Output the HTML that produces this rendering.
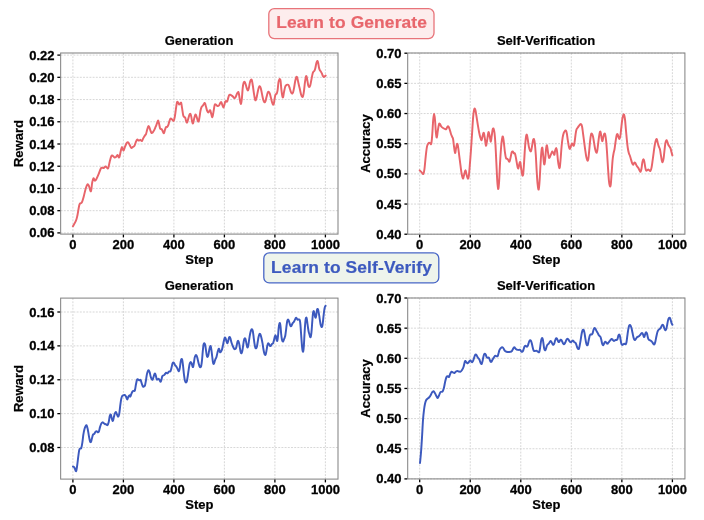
<!DOCTYPE html>
<html><head><meta charset="utf-8"><title>Training curves</title>
<style>
html,body{margin:0;padding:0;background:#fff;}
body{width:704px;height:520px;overflow:hidden;position:relative;font-family:"Liberation Sans",sans-serif;}
svg{position:absolute;left:0;top:0;will-change:transform;}
.g{stroke:#cdcdcd;stroke-width:0.8;stroke-dasharray:1.9 1.3;fill:none;}
.s{stroke:#858585;stroke-width:1.05;fill:none;}
.t{stroke:#000;stroke-width:1.3;}
.c{fill:none;stroke-width:1.95;stroke-linejoin:round;stroke-linecap:round;}
text{font-family:"Liberation Sans",sans-serif;font-weight:bold;fill:#000;}
.tl{font-size:13.0px;stroke:#000;stroke-width:0.3px;}
.lb{font-size:13.0px;stroke:#000;stroke-width:0.2px;}
.bt{font-size:17.4px;letter-spacing:0.12px;stroke-width:0.2px;}
.bn{position:absolute;box-sizing:border-box;border-radius:6px;font-weight:bold;font-size:17.6px;text-align:center;white-space:nowrap;}
#b1{left:268px;top:8px;width:167px;height:31.5px;border:1.3px solid #e9777b;background:#fde9e9;color:#e8666c;line-height:28px;}
#b2{left:263px;top:251.5px;width:177px;height:32px;border:1.3px solid #4a68c6;background:#eef4ec;color:#3f5cc0;line-height:28.5px;}
</style></head><body>
<svg width="704" height="520" viewBox="0 0 704 520">
<line class="g" x1="72.90" y1="53.00" x2="72.90" y2="234.10"/>
<line class="g" x1="123.40" y1="53.00" x2="123.40" y2="234.10"/>
<line class="g" x1="173.90" y1="53.00" x2="173.90" y2="234.10"/>
<line class="g" x1="224.40" y1="53.00" x2="224.40" y2="234.10"/>
<line class="g" x1="274.90" y1="53.00" x2="274.90" y2="234.10"/>
<line class="g" x1="325.40" y1="53.00" x2="325.40" y2="234.10"/>
<line class="g" x1="60.65" y1="55.10" x2="338.00" y2="55.10"/>
<line class="g" x1="60.65" y1="77.32" x2="338.00" y2="77.32"/>
<line class="g" x1="60.65" y1="99.55" x2="338.00" y2="99.55"/>
<line class="g" x1="60.65" y1="121.78" x2="338.00" y2="121.78"/>
<line class="g" x1="60.65" y1="144.00" x2="338.00" y2="144.00"/>
<line class="g" x1="60.65" y1="166.22" x2="338.00" y2="166.22"/>
<line class="g" x1="60.65" y1="188.45" x2="338.00" y2="188.45"/>
<line class="g" x1="60.65" y1="210.68" x2="338.00" y2="210.68"/>
<line class="g" x1="60.65" y1="232.90" x2="338.00" y2="232.90"/>
<path class="c" stroke="#e8646a" d="M72.90 226.26C73.44 225.30 75.07 222.87 75.87 220.97C76.67 219.06 76.78 218.34 77.35 215.68C77.92 213.01 78.54 208.37 79.04 206.16C79.53 203.95 79.60 204.06 80.10 203.41C80.59 202.76 81.14 203.78 81.79 202.56C82.44 201.34 82.97 199.23 83.69 196.64C84.42 194.05 85.12 190.39 85.81 188.18C86.49 185.97 86.93 184.75 87.50 184.37C88.07 183.99 88.37 184.80 88.98 186.06C89.59 187.32 90.32 191.92 90.89 191.35C91.46 190.78 91.70 185.25 92.16 182.89C92.61 180.53 92.93 178.61 93.43 178.23C93.92 177.85 94.37 180.62 94.91 180.77C95.44 180.92 95.74 180.22 96.39 179.08C97.03 177.94 97.70 176.33 98.50 174.43C99.30 172.52 100.14 169.72 100.83 168.50C101.51 167.28 101.78 167.73 102.31 167.66C102.84 167.58 103.22 168.31 103.79 168.08C104.36 167.85 104.91 166.46 105.48 166.39C106.05 166.31 106.47 167.35 106.96 167.66C107.46 167.96 107.74 169.15 108.23 168.08C108.73 167.01 109.14 163.90 109.71 161.73C110.29 159.56 110.84 157.09 111.41 156.02C111.98 154.95 112.32 155.54 112.89 155.81C113.46 156.08 114.01 157.31 114.58 157.50C115.15 157.69 115.53 157.32 116.06 156.87C116.59 156.41 116.97 154.85 117.54 154.96C118.11 155.08 118.66 158.19 119.23 157.50C119.81 156.82 120.22 153.06 120.72 151.16C121.21 149.25 121.49 147.00 121.98 146.92C122.48 146.85 122.93 150.73 123.47 150.73C124.00 150.73 124.37 148.29 124.95 146.92C125.52 145.55 126.07 143.95 126.64 143.12C127.21 142.28 127.55 141.89 128.12 142.27C128.69 142.65 129.24 144.20 129.81 145.23C130.38 146.26 130.72 147.68 131.29 147.98C131.86 148.29 132.41 147.30 132.98 146.92C133.56 146.54 133.97 146.70 134.47 145.87C134.96 145.03 135.24 143.41 135.74 142.27C136.23 141.13 136.68 139.82 137.22 139.52C137.75 139.22 138.20 140.52 138.70 140.58C139.20 140.64 139.56 139.85 140.00 139.85C140.44 139.84 140.78 140.37 141.15 140.54C141.53 140.70 141.66 141.25 142.08 140.77C142.49 140.29 142.96 138.82 143.46 137.88C143.96 136.95 144.39 136.26 144.85 135.58C145.30 134.89 145.58 135.12 146.00 134.08C146.42 133.04 146.74 131.20 147.15 129.81C147.57 128.42 147.93 126.87 148.31 126.35C148.68 125.83 148.86 126.20 149.23 126.92C149.60 127.65 149.97 129.30 150.38 130.38C150.80 131.46 151.12 132.55 151.54 132.92C151.95 133.30 152.24 132.92 152.69 132.46C153.15 132.00 153.56 131.38 154.08 130.38C154.60 129.39 155.06 128.17 155.58 126.92C156.10 125.68 156.50 124.60 156.96 123.46C157.42 122.32 157.74 120.58 158.12 120.58C158.49 120.58 158.66 122.01 159.04 123.46C159.41 124.92 159.71 127.62 160.19 128.65C160.67 129.69 161.21 128.71 161.69 129.23C162.17 129.75 162.45 130.81 162.85 131.54C163.24 132.27 163.53 133.48 163.88 133.27C164.24 133.06 164.43 131.49 164.81 130.38C165.18 129.28 165.55 127.78 165.96 127.15C166.38 126.53 166.70 127.28 167.12 126.92C167.53 126.57 167.85 126.23 168.27 125.19C168.68 124.15 169.01 122.34 169.42 121.15C169.84 119.97 170.10 118.93 170.58 118.62C171.05 118.30 171.52 119.01 172.08 119.42C172.64 119.84 173.19 121.44 173.69 120.92C174.19 120.40 174.43 118.78 174.85 116.54C175.26 114.30 175.63 111.00 176.00 108.46C176.37 105.93 176.59 103.60 176.92 102.46C177.26 101.32 177.47 101.76 177.85 102.12C178.22 102.47 178.58 104.15 179.00 104.42C179.42 104.69 179.76 103.89 180.15 103.62C180.55 103.35 180.84 102.05 181.19 102.92C181.55 103.80 181.74 106.22 182.12 108.46C182.49 110.70 182.85 113.83 183.27 115.38C183.68 116.94 184.07 116.70 184.42 117.12C184.78 117.53 184.92 116.97 185.23 117.69C185.54 118.42 185.82 120.28 186.15 121.15C186.49 122.03 186.70 122.95 187.08 122.54C187.45 122.12 187.82 120.24 188.23 118.85C188.65 117.45 188.99 115.70 189.38 114.81C189.78 113.91 190.07 113.47 190.42 113.88C190.78 114.30 191.03 115.70 191.35 117.12C191.66 118.53 191.84 120.63 192.15 121.73C192.47 122.83 192.70 123.85 193.08 123.23C193.45 122.61 193.82 119.85 194.23 118.27C194.65 116.69 194.97 114.77 195.38 114.46C195.80 114.15 196.12 115.44 196.54 116.54C196.95 117.64 197.32 119.70 197.69 120.58C198.07 121.45 198.30 121.90 198.62 121.38C198.93 120.87 199.07 119.71 199.42 117.69C199.78 115.68 200.16 112.17 200.58 110.19C200.99 108.22 201.32 107.56 201.73 106.73C202.15 105.90 202.47 106.14 202.88 105.58C203.30 105.02 203.66 104.03 204.04 103.62C204.41 103.20 204.61 102.71 204.96 103.27C205.31 103.83 205.61 105.38 206.00 106.73C206.39 108.08 206.74 109.73 207.15 110.77C207.57 111.81 207.93 112.40 208.31 112.50C208.68 112.60 208.90 111.76 209.23 111.35C209.56 110.93 209.80 109.78 210.15 110.19C210.51 110.61 210.80 112.37 211.19 113.65C211.59 114.94 211.97 117.45 212.35 117.35C212.72 117.24 212.90 115.09 213.27 113.08C213.64 111.06 214.11 107.75 214.42 106.15C214.73 104.56 214.69 104.47 215.00 104.23C215.31 103.99 215.70 104.50 216.15 104.81C216.61 105.12 217.02 105.86 217.54 105.96C218.06 106.07 218.56 105.90 219.04 105.38C219.52 104.87 219.78 103.66 220.19 103.08C220.61 102.50 220.97 101.84 221.35 102.15C221.72 102.47 221.92 103.85 222.27 104.81C222.62 105.76 222.95 107.36 223.31 107.46C223.66 107.57 223.90 106.38 224.23 105.38C224.56 104.39 224.84 102.71 225.15 101.92C225.47 101.13 225.61 101.04 225.96 101.00C226.31 100.96 226.74 102.15 227.12 101.69C227.49 101.24 227.69 99.62 228.04 98.46C228.39 97.30 228.68 95.90 229.08 95.23C229.47 94.57 229.75 94.71 230.23 94.77C230.71 94.83 231.21 95.22 231.73 95.58C232.25 95.93 232.64 96.25 233.12 96.73C233.59 97.21 233.95 98.13 234.38 98.23C234.82 98.33 235.12 97.99 235.54 97.31C235.95 96.62 236.28 95.36 236.69 94.42C237.11 93.49 237.49 92.43 237.85 92.12C238.20 91.80 238.36 91.76 238.65 92.69C238.94 93.63 239.15 95.54 239.46 97.31C239.77 99.07 240.09 101.36 240.38 102.50C240.68 103.64 240.81 104.38 241.08 103.65C241.35 102.93 241.59 101.27 241.88 98.46C242.18 95.66 242.38 90.88 242.69 88.08C243.00 85.27 243.28 83.99 243.62 82.88C243.95 81.78 244.19 81.75 244.54 81.96C244.89 82.17 245.18 82.94 245.58 84.04C245.97 85.14 246.32 86.89 246.73 88.08C247.15 89.26 247.51 90.62 247.88 90.62C248.26 90.62 248.43 89.57 248.81 88.08C249.18 86.58 249.57 83.80 249.96 82.31C250.36 80.81 250.65 80.08 251.00 79.77C251.35 79.46 251.59 79.50 251.92 80.58C252.26 81.66 252.47 83.38 252.85 85.77C253.22 88.16 253.63 91.46 254.00 93.85C254.37 96.23 254.61 97.90 254.92 99.04C255.23 100.18 255.40 100.61 255.73 100.19C256.06 99.78 256.37 98.39 256.77 96.73C257.16 95.07 257.51 92.73 257.92 90.96C258.34 89.20 258.70 87.75 259.08 86.92C259.45 86.09 259.67 86.03 260.00 86.35C260.33 86.66 260.55 87.20 260.92 88.65C261.30 90.11 261.66 92.45 262.08 94.42C262.49 96.40 262.82 98.22 263.23 99.62C263.65 101.01 263.99 101.84 264.38 102.15C264.78 102.47 265.03 102.32 265.42 101.35C265.82 100.37 266.16 98.29 266.58 96.73C266.99 95.17 267.34 93.59 267.73 92.69C268.13 91.80 268.40 91.60 268.77 91.77C269.14 91.94 269.41 92.51 269.81 93.62C270.20 94.72 270.55 96.29 270.96 97.88C271.38 99.48 271.74 101.30 272.12 102.50C272.49 103.70 272.73 104.37 273.04 104.58C273.35 104.78 273.56 104.75 273.85 103.65C274.14 102.55 274.34 100.12 274.65 98.46C274.97 96.80 275.20 95.30 275.58 94.42C275.95 93.55 276.36 94.45 276.73 93.62C277.10 92.78 277.34 91.84 277.65 89.81C277.97 87.77 278.15 84.18 278.46 82.31C278.77 80.44 279.11 79.98 279.38 79.42C279.66 78.87 279.79 78.95 280.00 79.23C280.21 79.51 280.33 79.09 280.58 80.96C280.83 82.83 281.07 86.92 281.38 89.62C281.70 92.32 282.00 94.61 282.31 95.96C282.62 97.31 282.80 97.84 283.12 97.12C283.43 96.39 283.66 93.79 284.04 91.92C284.41 90.05 284.78 87.98 285.19 86.73C285.61 85.48 285.93 85.37 286.35 85.00C286.76 84.63 287.08 84.61 287.50 84.65C287.92 84.70 288.24 84.55 288.65 85.23C289.07 85.92 289.39 87.22 289.81 88.46C290.22 89.71 290.55 91.22 290.96 92.15C291.38 93.09 291.74 93.59 292.12 93.65C292.49 93.72 292.69 93.54 293.04 92.50C293.39 91.46 293.68 89.96 294.08 87.88C294.47 85.81 294.82 82.93 295.23 80.96C295.65 78.99 296.01 77.44 296.38 76.92C296.76 76.40 296.93 76.93 297.31 78.08C297.68 79.22 298.00 81.30 298.46 83.27C298.92 85.24 299.39 87.07 299.85 89.04C300.30 91.01 300.58 92.84 301.00 94.23C301.42 95.62 301.78 96.46 302.15 96.77C302.53 97.08 302.74 97.04 303.08 95.96C303.41 94.88 303.67 93.16 304.00 90.77C304.33 88.38 304.59 85.18 304.92 82.69C305.26 80.20 305.56 78.07 305.85 76.92C306.14 75.78 306.27 75.72 306.54 76.35C306.81 76.97 307.03 78.72 307.35 80.38C307.66 82.05 307.94 84.37 308.27 85.58C308.60 86.78 308.84 87.08 309.19 87.08C309.55 87.08 309.84 86.89 310.23 85.58C310.63 84.27 310.97 81.88 311.38 79.81C311.80 77.73 312.16 75.49 312.54 74.04C312.91 72.58 313.13 72.29 313.46 71.73C313.79 71.17 314.05 71.55 314.38 70.92C314.72 70.30 314.98 69.58 315.31 68.27C315.64 66.96 315.90 64.96 316.23 63.65C316.56 62.35 316.82 61.21 317.15 61.00C317.49 60.79 317.74 61.30 318.08 62.50C318.41 63.70 318.67 66.28 319.00 67.69C319.33 69.10 319.57 69.62 319.92 70.35C320.28 71.07 320.61 71.17 320.96 71.73C321.31 72.29 321.53 72.69 321.88 73.46C322.24 74.23 322.57 75.38 322.92 76.00C323.28 76.62 323.51 76.86 323.85 76.92C324.18 76.99 324.44 76.60 324.77 76.35C325.10 76.10 325.53 75.68 325.69 75.54"/>
<rect class="s" x="60.65" y="53.00" width="277.35" height="181.10"/>
<line class="t" x1="72.90" y1="234.60" x2="72.90" y2="237.40"/>
<text class="tl" text-anchor="middle" x="72.90" y="249.00">0</text>
<line class="t" x1="123.40" y1="234.60" x2="123.40" y2="237.40"/>
<text class="tl" text-anchor="middle" x="123.40" y="249.00">200</text>
<line class="t" x1="173.90" y1="234.60" x2="173.90" y2="237.40"/>
<text class="tl" text-anchor="middle" x="173.90" y="249.00">400</text>
<line class="t" x1="224.40" y1="234.60" x2="224.40" y2="237.40"/>
<text class="tl" text-anchor="middle" x="224.40" y="249.00">600</text>
<line class="t" x1="274.90" y1="234.60" x2="274.90" y2="237.40"/>
<text class="tl" text-anchor="middle" x="274.90" y="249.00">800</text>
<line class="t" x1="325.40" y1="234.60" x2="325.40" y2="237.40"/>
<text class="tl" text-anchor="middle" x="325.40" y="249.00">1000</text>
<line class="t" x1="57.35" y1="55.10" x2="60.15" y2="55.10"/>
<text class="tl" text-anchor="end" x="54.55" y="59.60">0.22</text>
<line class="t" x1="57.35" y1="77.32" x2="60.15" y2="77.32"/>
<text class="tl" text-anchor="end" x="54.55" y="81.82">0.20</text>
<line class="t" x1="57.35" y1="99.55" x2="60.15" y2="99.55"/>
<text class="tl" text-anchor="end" x="54.55" y="104.05">0.18</text>
<line class="t" x1="57.35" y1="121.78" x2="60.15" y2="121.78"/>
<text class="tl" text-anchor="end" x="54.55" y="126.28">0.16</text>
<line class="t" x1="57.35" y1="144.00" x2="60.15" y2="144.00"/>
<text class="tl" text-anchor="end" x="54.55" y="148.50">0.14</text>
<line class="t" x1="57.35" y1="166.22" x2="60.15" y2="166.22"/>
<text class="tl" text-anchor="end" x="54.55" y="170.72">0.12</text>
<line class="t" x1="57.35" y1="188.45" x2="60.15" y2="188.45"/>
<text class="tl" text-anchor="end" x="54.55" y="192.95">0.10</text>
<line class="t" x1="57.35" y1="210.68" x2="60.15" y2="210.68"/>
<text class="tl" text-anchor="end" x="54.55" y="215.18">0.08</text>
<line class="t" x1="57.35" y1="232.90" x2="60.15" y2="232.90"/>
<text class="tl" text-anchor="end" x="54.55" y="237.40">0.06</text>
<text class="lb" text-anchor="middle" x="199.02" y="45.00">Generation</text>
<text class="lb" text-anchor="middle" x="199.32" y="264.10">Step</text>
<text class="lb" text-anchor="middle" transform="translate(23.45 143.55) rotate(-90)">Reward</text>
<line class="g" x1="419.70" y1="53.00" x2="419.70" y2="234.20"/>
<line class="g" x1="470.24" y1="53.00" x2="470.24" y2="234.20"/>
<line class="g" x1="520.78" y1="53.00" x2="520.78" y2="234.20"/>
<line class="g" x1="571.32" y1="53.00" x2="571.32" y2="234.20"/>
<line class="g" x1="621.86" y1="53.00" x2="621.86" y2="234.20"/>
<line class="g" x1="672.40" y1="53.00" x2="672.40" y2="234.20"/>
<line class="g" x1="407.70" y1="53.20" x2="684.90" y2="53.20"/>
<line class="g" x1="407.70" y1="83.37" x2="684.90" y2="83.37"/>
<line class="g" x1="407.70" y1="113.54" x2="684.90" y2="113.54"/>
<line class="g" x1="407.70" y1="143.71" x2="684.90" y2="143.71"/>
<line class="g" x1="407.70" y1="173.88" x2="684.90" y2="173.88"/>
<line class="g" x1="407.70" y1="204.05" x2="684.90" y2="204.05"/>
<line class="g" x1="407.70" y1="234.22" x2="684.90" y2="234.22"/>
<path class="c" stroke="#e8646a" d="M419.67 170.34C420.00 170.67 420.84 171.51 421.50 172.16C422.16 172.82 422.80 174.48 423.33 173.99C423.85 173.50 424.00 172.55 424.42 169.42C424.85 166.30 425.24 160.75 425.70 156.63C426.16 152.52 426.49 148.99 426.98 146.59C427.47 144.19 427.95 143.96 428.44 143.30C428.94 142.64 429.23 142.83 429.72 142.93C430.21 143.03 430.76 145.00 431.18 143.85C431.61 142.70 431.73 140.81 432.10 136.54C432.46 132.26 432.83 124.21 433.19 120.10C433.55 115.99 433.78 113.70 434.11 113.70C434.43 113.70 434.69 116.64 435.02 120.10C435.35 123.55 435.60 129.76 435.93 132.88C436.26 136.01 436.52 137.78 436.85 137.45C437.17 137.12 437.40 133.36 437.76 131.06C438.12 128.76 438.49 125.98 438.86 124.66C439.22 123.35 439.34 123.42 439.77 123.75C440.20 124.08 440.64 125.73 441.23 126.49C441.82 127.25 442.40 127.52 443.06 127.95C443.72 128.38 444.33 128.64 444.88 128.87C445.44 129.10 445.74 129.56 446.16 129.23C446.59 128.90 446.86 127.53 447.26 127.04C447.65 126.55 447.93 126.10 448.36 126.49C448.78 126.88 449.17 127.92 449.63 129.23C450.09 130.55 450.45 132.42 450.91 133.80C451.37 135.18 451.80 135.92 452.19 136.90C452.59 137.89 452.78 137.54 453.11 139.28C453.43 141.02 453.66 144.12 454.02 146.59C454.38 149.05 454.75 152.65 455.12 152.98C455.48 153.31 455.67 150.06 456.03 148.41C456.39 146.77 456.76 144.17 457.12 143.85C457.49 143.52 457.68 144.61 458.04 146.59C458.40 148.56 458.71 151.52 459.13 154.81C459.56 158.10 459.95 161.40 460.41 164.86C460.87 168.31 461.23 171.52 461.69 173.99C462.15 176.46 462.54 178.39 462.97 178.56C463.40 178.72 463.64 176.38 464.07 174.90C464.49 173.42 464.92 170.50 465.35 170.34C465.77 170.17 466.01 172.51 466.44 173.99C466.87 175.47 467.29 178.23 467.72 178.56C468.15 178.89 468.42 178.45 468.82 175.82C469.21 173.19 469.52 168.71 469.91 163.94C470.31 159.17 470.61 154.92 471.01 149.33C471.40 143.74 471.71 138.80 472.11 132.88C472.50 126.97 472.81 120.72 473.20 116.44C473.60 112.17 473.90 110.29 474.30 109.13C474.69 107.98 475.00 108.73 475.39 110.05C475.79 111.36 476.06 113.81 476.49 116.44C476.92 119.07 477.31 121.87 477.77 124.66C478.23 127.46 478.59 129.67 479.05 131.97C479.51 134.27 479.87 135.97 480.33 137.45C480.79 138.93 481.18 140.52 481.61 140.19C482.03 139.86 482.31 136.94 482.70 135.62C483.10 134.31 483.38 132.23 483.80 132.88C484.21 133.54 484.62 136.98 485.00 139.28C485.38 141.58 485.55 145.34 485.91 145.67C486.28 146.00 486.61 143.24 487.01 141.11C487.40 138.97 487.78 135.38 488.11 133.80C488.43 132.22 488.51 131.68 488.84 132.34C489.17 132.99 489.57 135.77 489.93 137.45C490.29 139.13 490.52 141.98 490.85 141.65C491.17 141.32 491.43 137.80 491.76 135.62C492.09 133.45 492.34 130.85 492.67 129.60C493.00 128.35 493.26 128.09 493.59 128.68C493.92 129.27 494.17 130.16 494.50 132.88C494.83 135.61 495.08 138.58 495.41 143.85C495.74 149.11 496.00 155.54 496.33 162.12C496.66 168.69 496.91 175.55 497.24 180.38C497.57 185.22 497.82 188.64 498.15 188.97C498.48 189.30 498.74 186.72 499.07 182.21C499.40 177.71 499.62 170.19 499.98 163.94C500.34 157.69 500.72 151.94 501.08 147.50C501.44 143.06 501.66 141.25 501.99 139.28C502.32 137.31 502.57 136.05 502.90 136.54C503.23 137.03 503.46 139.22 503.82 142.02C504.18 144.81 504.52 149.17 504.91 152.07C505.31 154.96 505.58 156.88 506.01 158.10C506.44 159.31 506.86 158.43 507.29 158.83C507.72 159.22 507.99 159.76 508.38 160.29C508.78 160.81 509.09 162.24 509.48 161.75C509.88 161.26 510.18 159.23 510.58 157.55C510.97 155.87 511.28 153.52 511.67 152.43C512.07 151.35 512.37 151.35 512.77 151.52C513.16 151.68 513.47 152.98 513.87 153.35C514.26 153.71 514.57 152.61 514.96 153.53C515.36 154.45 515.66 156.42 516.06 158.46C516.45 160.50 516.76 163.05 517.15 164.86C517.55 166.66 517.86 168.67 518.25 168.51C518.64 168.34 518.98 165.09 519.35 163.94C519.71 162.79 519.93 161.29 520.26 162.12C520.59 162.94 520.81 166.21 521.17 168.51C521.53 170.81 521.91 173.92 522.27 174.90C522.63 175.89 522.85 176.29 523.18 173.99C523.51 171.69 523.77 166.88 524.10 162.12C524.42 157.35 524.68 151.94 525.01 147.50C525.34 143.06 525.59 139.75 525.92 137.45C526.25 135.15 526.51 134.38 526.84 134.71C527.17 135.04 527.39 137.14 527.75 139.28C528.11 141.42 528.45 144.61 528.85 146.59C529.24 148.56 529.55 149.42 529.94 150.24C530.34 151.06 530.64 151.98 531.04 151.15C531.43 150.33 531.77 147.65 532.13 145.67C532.50 143.70 532.72 141.34 533.05 140.19C533.38 139.04 533.63 138.62 533.96 139.28C534.29 139.94 534.55 141.05 534.87 143.85C535.20 146.64 535.46 149.87 535.79 154.81C536.12 159.74 536.37 165.99 536.70 171.25C537.03 176.51 537.25 180.75 537.62 184.04C537.98 187.33 538.35 190.18 538.71 189.52C539.07 188.86 539.30 184.99 539.62 180.38C539.95 175.78 540.21 169.20 540.54 163.94C540.87 158.68 541.12 154.05 541.45 151.15C541.78 148.26 542.04 146.88 542.37 147.87C542.69 148.85 542.95 153.67 543.28 156.63C543.61 159.59 543.86 163.65 544.19 164.31C544.52 164.97 544.78 162.98 545.11 160.29C545.43 157.59 545.69 152.02 546.02 149.33C546.35 146.63 546.60 144.98 546.93 145.31C547.26 145.64 547.48 148.95 547.85 151.15C548.21 153.36 548.55 156.56 548.94 157.55C549.34 158.53 549.64 157.29 550.04 156.63C550.43 155.98 550.74 154.81 551.13 153.89C551.53 152.97 551.84 151.68 552.23 151.52C552.63 151.35 552.93 152.39 553.33 152.98C553.72 153.57 554.12 155.14 554.42 154.81C554.72 154.48 554.70 152.37 555.00 151.15C555.30 149.94 555.73 148.05 556.10 148.05C556.46 148.05 556.68 148.95 557.01 151.15C557.34 153.36 557.59 157.59 557.92 160.29C558.25 162.98 558.51 164.82 558.84 166.13C559.17 167.45 559.42 168.98 559.75 167.60C560.08 166.21 560.33 162.24 560.66 158.46C560.99 154.68 561.22 150.37 561.58 146.59C561.94 142.80 562.28 139.92 562.67 137.45C563.07 134.99 563.37 134.04 563.77 132.88C564.16 131.73 564.47 131.45 564.87 131.06C565.26 130.66 565.60 130.20 565.96 130.69C566.32 131.19 566.55 132.09 566.87 133.80C567.20 135.51 567.43 137.89 567.79 140.19C568.15 142.49 568.49 145.01 568.88 146.59C569.28 148.16 569.59 149.13 569.98 148.96C570.38 148.80 570.72 146.66 571.08 145.67C571.44 144.69 571.66 143.65 571.99 143.48C572.32 143.32 572.57 144.36 572.90 144.76C573.23 145.15 573.49 146.33 573.82 145.67C574.15 145.02 574.40 143.24 574.73 141.11C575.06 138.97 575.32 135.94 575.64 133.80C575.97 131.66 576.20 130.32 576.56 129.23C576.92 128.15 577.26 128.33 577.65 127.77C578.05 127.21 578.36 126.68 578.75 126.12C579.14 125.57 579.45 125.03 579.85 124.66C580.24 124.30 580.55 123.79 580.94 124.12C581.34 124.44 581.68 124.91 582.04 126.49C582.40 128.07 582.59 130.25 582.95 132.88C583.31 135.52 583.65 138.15 584.05 141.11C584.44 144.07 584.75 146.53 585.14 149.33C585.54 152.12 585.85 154.66 586.24 156.63C586.63 158.61 586.97 159.80 587.34 160.29C587.70 160.78 587.92 161.02 588.25 159.37C588.58 157.73 588.83 154.44 589.16 151.15C589.49 147.87 589.75 144.07 590.08 141.11C590.41 138.15 590.66 136.03 590.99 134.71C591.32 133.40 591.54 133.47 591.90 133.80C592.27 134.13 592.61 134.89 593.00 136.54C593.39 138.18 593.70 140.63 594.10 142.93C594.49 145.23 594.80 147.58 595.19 149.33C595.59 151.07 595.93 152.29 596.29 152.62C596.65 152.94 596.87 152.73 597.20 151.15C597.53 149.58 597.79 146.48 598.12 143.85C598.44 141.22 598.70 138.68 599.03 136.54C599.36 134.40 599.65 132.69 599.94 131.97C600.24 131.25 600.38 131.37 600.67 132.52C600.97 133.67 601.26 136.82 601.59 138.37C601.92 139.91 602.17 141.43 602.50 141.11C602.83 140.78 603.08 137.85 603.41 136.54C603.74 135.22 604.00 134.13 604.33 133.80C604.66 133.47 604.91 133.40 605.24 134.71C605.57 136.03 605.82 137.82 606.15 141.11C606.48 144.39 606.74 148.21 607.07 152.98C607.40 157.75 607.65 162.66 607.98 167.60C608.31 172.53 608.57 177.10 608.89 180.38C609.22 183.67 609.48 185.04 609.81 185.87C610.14 186.69 610.39 187.25 610.72 184.95C611.05 182.65 611.31 177.52 611.63 173.08C611.96 168.64 612.22 163.74 612.55 160.29C612.88 156.84 613.10 155.93 613.46 153.89C613.82 151.86 614.16 151.26 614.56 148.96C614.95 146.66 615.26 143.67 615.65 141.11C616.05 138.54 616.39 135.93 616.75 134.71C617.11 133.49 617.33 133.85 617.66 134.35C617.99 134.84 618.25 136.63 618.58 137.45C618.91 138.27 619.16 139.24 619.49 138.91C619.82 138.58 620.07 137.70 620.40 135.62C620.73 133.55 620.99 130.26 621.32 127.40C621.65 124.54 621.90 121.87 622.23 119.73C622.56 117.59 622.82 116.45 623.14 115.53C623.47 114.61 623.73 113.96 624.06 114.62C624.39 115.27 624.64 116.55 624.97 119.18C625.30 121.81 625.56 125.61 625.88 129.23C626.21 132.85 626.47 135.99 626.80 139.28C627.13 142.57 627.35 145.03 627.71 147.50C628.07 149.97 628.41 151.50 628.81 152.98C629.20 154.46 629.51 154.57 629.90 155.72C630.30 156.87 630.61 158.06 631.00 159.37C631.39 160.69 631.70 162.04 632.10 163.03C632.49 164.02 632.85 164.86 633.19 164.86C633.53 164.86 633.66 163.42 634.00 163.03C634.34 162.63 634.70 162.33 635.10 162.66C635.49 162.99 635.80 164.13 636.19 164.86C636.59 165.58 636.89 166.12 637.29 166.68C637.68 167.24 637.99 167.30 638.38 167.96C638.78 168.62 639.09 169.65 639.48 170.34C639.88 171.03 640.22 172.13 640.58 171.80C640.94 171.47 641.16 170.25 641.49 168.51C641.82 166.77 642.07 163.76 642.40 162.12C642.73 160.47 642.99 159.54 643.32 159.37C643.65 159.21 643.90 159.89 644.23 161.20C644.56 162.52 644.82 165.04 645.14 166.68C645.47 168.33 645.70 169.68 646.06 170.34C646.42 170.99 646.76 170.50 647.15 170.34C647.55 170.17 647.86 169.42 648.25 169.42C648.64 169.42 648.95 170.07 649.35 170.34C649.74 170.60 650.05 171.38 650.44 170.88C650.84 170.39 651.14 169.50 651.54 167.60C651.93 165.69 652.24 163.08 652.63 160.29C653.03 157.49 653.34 154.86 653.73 152.07C654.13 149.27 654.43 146.90 654.83 144.76C655.22 142.62 655.56 141.18 655.92 140.19C656.28 139.21 656.51 138.79 656.84 139.28C657.17 139.77 657.39 141.62 657.75 142.93C658.11 144.25 658.45 145.44 658.85 146.59C659.24 147.74 659.58 147.85 659.94 149.33C660.30 150.81 660.53 152.83 660.86 154.81C661.18 156.78 661.44 158.97 661.77 160.29C662.10 161.60 662.35 162.44 662.68 162.12C663.01 161.79 663.27 160.60 663.60 158.46C663.92 156.32 664.18 153.04 664.51 150.24C664.84 147.45 665.09 144.74 665.42 142.93C665.75 141.12 666.01 140.42 666.34 140.19C666.67 139.96 666.89 140.83 667.25 141.65C667.61 142.48 667.95 143.87 668.35 144.76C668.74 145.65 669.05 145.93 669.44 146.59C669.84 147.24 670.18 147.43 670.54 148.41C670.90 149.40 671.12 150.82 671.45 152.07C671.78 153.32 672.20 154.76 672.37 155.36"/>
<rect class="s" x="407.70" y="53.00" width="277.20" height="181.20"/>
<line class="t" x1="419.70" y1="234.70" x2="419.70" y2="237.50"/>
<text class="tl" text-anchor="middle" x="419.70" y="249.10">0</text>
<line class="t" x1="470.24" y1="234.70" x2="470.24" y2="237.50"/>
<text class="tl" text-anchor="middle" x="470.24" y="249.10">200</text>
<line class="t" x1="520.78" y1="234.70" x2="520.78" y2="237.50"/>
<text class="tl" text-anchor="middle" x="520.78" y="249.10">400</text>
<line class="t" x1="571.32" y1="234.70" x2="571.32" y2="237.50"/>
<text class="tl" text-anchor="middle" x="571.32" y="249.10">600</text>
<line class="t" x1="621.86" y1="234.70" x2="621.86" y2="237.50"/>
<text class="tl" text-anchor="middle" x="621.86" y="249.10">800</text>
<line class="t" x1="672.40" y1="234.70" x2="672.40" y2="237.50"/>
<text class="tl" text-anchor="middle" x="672.40" y="249.10">1000</text>
<line class="t" x1="404.40" y1="53.20" x2="407.20" y2="53.20"/>
<text class="tl" text-anchor="end" x="401.60" y="57.70">0.70</text>
<line class="t" x1="404.40" y1="83.37" x2="407.20" y2="83.37"/>
<text class="tl" text-anchor="end" x="401.60" y="87.87">0.65</text>
<line class="t" x1="404.40" y1="113.54" x2="407.20" y2="113.54"/>
<text class="tl" text-anchor="end" x="401.60" y="118.04">0.60</text>
<line class="t" x1="404.40" y1="143.71" x2="407.20" y2="143.71"/>
<text class="tl" text-anchor="end" x="401.60" y="148.21">0.55</text>
<line class="t" x1="404.40" y1="173.88" x2="407.20" y2="173.88"/>
<text class="tl" text-anchor="end" x="401.60" y="178.38">0.50</text>
<line class="t" x1="404.40" y1="204.05" x2="407.20" y2="204.05"/>
<text class="tl" text-anchor="end" x="401.60" y="208.55">0.45</text>
<line class="t" x1="404.40" y1="234.22" x2="407.20" y2="234.22"/>
<text class="tl" text-anchor="end" x="401.60" y="238.72">0.40</text>
<text class="lb" text-anchor="middle" x="546.00" y="45.00">Self-Verification</text>
<text class="lb" text-anchor="middle" x="546.30" y="264.20">Step</text>
<text class="lb" text-anchor="middle" transform="translate(369.90 143.60) rotate(-90)">Accuracy</text>
<line class="g" x1="72.90" y1="298.10" x2="72.90" y2="479.10"/>
<line class="g" x1="123.40" y1="298.10" x2="123.40" y2="479.10"/>
<line class="g" x1="173.90" y1="298.10" x2="173.90" y2="479.10"/>
<line class="g" x1="224.40" y1="298.10" x2="224.40" y2="479.10"/>
<line class="g" x1="274.90" y1="298.10" x2="274.90" y2="479.10"/>
<line class="g" x1="325.40" y1="298.10" x2="325.40" y2="479.10"/>
<line class="g" x1="60.65" y1="312.00" x2="338.00" y2="312.00"/>
<line class="g" x1="60.65" y1="345.88" x2="338.00" y2="345.88"/>
<line class="g" x1="60.65" y1="379.76" x2="338.00" y2="379.76"/>
<line class="g" x1="60.65" y1="413.64" x2="338.00" y2="413.64"/>
<line class="g" x1="60.65" y1="447.52" x2="338.00" y2="447.52"/>
<path class="c" stroke="#3c59be" d="M73.01 466.58C73.27 466.76 73.90 466.79 74.46 467.62C75.02 468.44 75.64 471.52 76.12 471.15C76.61 470.77 76.79 468.04 77.16 465.54C77.54 463.03 77.83 460.03 78.20 457.23C78.57 454.43 78.86 451.53 79.24 449.96C79.61 448.39 79.90 448.88 80.28 448.51C80.65 448.13 80.94 448.93 81.32 447.88C81.69 446.84 81.98 445.12 82.35 442.69C82.73 440.26 83.02 436.81 83.39 434.38C83.77 431.95 84.02 430.69 84.43 429.19C84.84 427.70 85.27 426.75 85.68 426.08C86.09 425.40 86.34 424.89 86.72 425.45C87.09 426.01 87.38 427.40 87.75 429.19C88.13 430.99 88.42 433.37 88.79 435.42C89.17 437.48 89.46 439.42 89.83 440.62C90.20 441.81 90.50 442.44 90.87 442.07C91.24 441.70 91.53 439.85 91.91 438.54C92.28 437.23 92.54 435.62 92.95 434.80C93.36 433.98 93.74 434.49 94.19 433.97C94.64 433.45 94.99 432.38 95.44 431.89C95.89 431.41 96.24 431.19 96.68 431.27C97.13 431.34 97.52 432.31 97.93 432.31C98.34 432.31 98.60 432.20 98.97 431.27C99.34 430.33 99.60 428.50 100.01 427.12C100.42 425.73 100.81 424.44 101.25 423.58C101.70 422.72 102.05 422.41 102.50 422.34C102.95 422.26 103.30 422.87 103.75 423.17C104.19 423.47 104.54 423.78 104.99 424.00C105.44 424.22 105.79 424.23 106.24 424.42C106.69 424.60 107.04 425.49 107.48 425.04C107.93 424.59 108.32 423.53 108.73 421.92C109.14 420.32 109.40 417.42 109.77 416.11C110.14 414.80 110.43 414.17 110.81 414.65C111.18 415.14 111.47 417.69 111.85 418.81C112.22 419.93 112.51 421.26 112.88 420.88C113.26 420.51 113.55 418.11 113.92 416.73C114.30 415.35 114.59 414.02 114.96 413.20C115.34 412.38 115.63 411.90 116.00 412.16C116.37 412.42 116.66 413.83 117.04 414.65C117.41 415.48 117.70 416.73 118.08 416.73C118.45 416.73 118.74 416.52 119.12 414.65C119.49 412.78 119.78 409.15 120.15 406.35C120.53 403.54 120.82 400.95 121.19 399.08C121.57 397.21 121.82 396.63 122.23 395.96C122.64 395.29 123.03 395.53 123.48 395.34C123.93 395.15 124.27 394.70 124.72 394.92C125.17 395.15 125.52 395.76 125.97 396.58C126.42 397.41 126.80 399.42 127.22 399.49C127.63 399.57 127.88 397.75 128.25 397.00C128.63 396.25 128.92 395.41 129.29 395.34C129.67 395.26 129.96 396.85 130.33 396.58C130.70 396.32 130.96 394.82 131.37 393.88C131.78 392.95 132.17 391.95 132.62 391.39C133.06 390.83 133.45 390.96 133.86 390.77C134.27 390.58 134.53 391.48 134.90 390.35C135.27 389.23 135.56 386.41 135.94 384.54C136.31 382.67 136.60 380.90 136.98 379.97C137.35 379.03 137.60 379.27 138.02 379.35C138.43 379.42 138.81 380.27 139.26 380.38C139.71 380.50 140.06 379.41 140.51 379.97C140.96 380.53 141.31 382.30 141.75 383.50C142.20 384.70 142.55 386.13 143.00 386.62C143.45 387.10 143.89 386.41 144.25 386.20C144.61 385.99 144.69 386.49 145.00 385.46C145.31 384.43 145.60 382.47 145.94 380.48C146.28 378.49 146.55 376.12 146.88 374.42C147.22 372.73 147.49 371.78 147.83 371.06C148.17 370.33 148.43 370.14 148.77 370.38C149.11 370.63 149.37 371.31 149.71 372.40C150.05 373.49 150.29 375.23 150.65 376.44C151.02 377.65 151.37 378.58 151.73 379.13C152.09 379.69 152.36 379.90 152.67 379.54C152.99 379.17 153.17 378.08 153.48 377.12C153.80 376.15 154.11 374.76 154.42 374.15C154.74 373.55 154.94 373.34 155.23 373.75C155.52 374.16 155.75 375.40 156.04 376.44C156.33 377.48 156.53 379.05 156.85 379.54C157.16 380.02 157.45 379.28 157.79 379.13C158.13 378.99 158.42 378.56 158.73 378.73C159.05 378.90 159.20 379.52 159.54 380.08C159.88 380.63 160.28 381.88 160.62 381.83C160.95 381.78 161.13 380.78 161.42 379.81C161.71 378.84 161.92 377.22 162.23 376.44C162.55 375.67 162.83 375.74 163.17 375.50C163.51 375.26 163.75 375.41 164.12 375.10C164.48 374.78 164.83 374.16 165.19 373.75C165.56 373.34 165.80 372.88 166.13 372.81C166.47 372.73 166.76 373.30 167.08 373.35C167.39 373.39 167.59 373.37 167.88 373.08C168.18 372.79 168.38 372.02 168.69 371.73C169.01 371.44 169.30 371.58 169.63 371.46C169.97 371.34 170.24 371.74 170.58 371.06C170.92 370.38 171.18 369.02 171.52 367.69C171.86 366.36 172.15 364.57 172.46 363.65C172.78 362.73 172.95 362.63 173.27 362.58C173.58 362.53 173.87 362.90 174.21 363.38C174.55 363.87 174.79 364.74 175.15 365.27C175.52 365.80 175.84 365.79 176.23 366.35C176.62 366.90 176.94 367.64 177.31 368.37C177.67 369.09 177.93 369.90 178.25 370.38C178.56 370.87 178.77 371.54 179.06 371.06C179.35 370.57 179.57 369.39 179.87 367.69C180.16 366.00 180.38 363.21 180.67 361.63C180.96 360.06 181.19 359.18 181.48 358.94C181.77 358.70 182.00 358.96 182.29 360.29C182.58 361.62 182.78 363.68 183.10 366.35C183.41 369.01 183.70 372.48 184.04 375.10C184.38 377.71 184.64 379.55 184.98 380.88C185.32 382.22 185.58 382.45 185.92 382.50C186.26 382.55 186.53 382.37 186.87 381.15C187.20 379.94 187.47 377.95 187.81 375.77C188.15 373.59 188.41 371.22 188.75 369.04C189.09 366.86 189.35 364.91 189.69 363.65C190.03 362.39 190.32 362.16 190.63 362.04C190.95 361.92 191.15 362.33 191.44 362.98C191.73 363.63 191.96 364.95 192.25 365.67C192.54 366.40 192.77 367.50 193.06 367.02C193.35 366.53 193.57 364.68 193.87 362.98C194.16 361.28 194.38 358.93 194.67 357.60C194.96 356.26 195.19 356.01 195.48 355.58C195.77 355.14 196.00 354.93 196.29 355.17C196.58 355.42 196.81 356.00 197.10 356.92C197.39 357.84 197.61 359.08 197.90 360.29C198.19 361.50 198.42 362.56 198.71 363.65C199.00 364.74 199.23 365.69 199.52 366.35C199.81 367.00 200.04 367.29 200.33 367.29C200.62 367.29 200.84 367.48 201.13 366.35C201.43 365.21 201.65 363.63 201.94 360.96C202.23 358.30 202.46 354.49 202.75 351.54C203.04 348.58 203.27 346.04 203.56 344.54C203.85 343.04 204.07 343.14 204.37 343.19C204.66 343.24 204.88 343.55 205.17 344.81C205.46 346.07 205.69 348.25 205.98 350.19C206.27 352.13 206.50 354.37 206.79 355.58C207.08 356.79 207.31 357.04 207.60 356.92C207.89 356.80 208.11 356.12 208.40 354.90C208.69 353.69 208.92 351.65 209.21 350.19C209.50 348.74 209.75 347.55 210.02 346.83C210.29 346.10 210.45 345.67 210.69 346.15C210.93 346.64 211.10 347.70 211.37 349.52C211.63 351.34 211.88 353.95 212.17 356.25C212.46 358.55 212.69 360.93 212.98 362.31C213.27 363.69 213.50 364.04 213.79 363.92C214.08 363.80 214.28 362.53 214.60 361.63C214.91 360.74 215.20 359.79 215.54 358.94C215.88 358.09 216.14 358.01 216.48 356.92C216.82 355.83 217.08 354.22 217.42 352.88C217.76 351.55 218.05 350.25 218.37 349.52C218.68 348.79 218.88 348.38 219.17 348.85C219.47 349.31 219.66 351.65 220.00 352.12C220.34 352.58 220.71 351.93 221.08 351.44C221.44 350.96 221.68 350.51 222.02 349.42C222.36 348.33 222.62 346.96 222.96 345.38C223.30 343.81 223.56 342.05 223.90 340.67C224.24 339.29 224.53 338.12 224.85 337.71C225.16 337.30 225.36 337.73 225.65 338.38C225.94 339.04 226.17 340.45 226.46 341.35C226.75 342.24 226.98 343.37 227.27 343.37C227.56 343.37 227.79 342.32 228.08 341.35C228.37 340.38 228.59 338.78 228.88 337.98C229.18 337.18 229.40 336.78 229.69 336.90C229.98 337.02 230.21 337.73 230.50 338.65C230.79 339.57 230.99 340.93 231.31 342.02C231.62 343.11 231.91 343.81 232.25 344.71C232.59 345.61 232.85 346.27 233.19 347.00C233.53 347.73 233.80 348.36 234.13 348.75C234.47 349.14 234.74 349.27 235.08 349.15C235.42 349.03 235.70 348.88 236.02 348.08C236.33 347.28 236.54 345.92 236.83 344.71C237.12 343.50 237.37 342.00 237.63 341.35C237.90 340.69 238.04 340.71 238.31 341.08C238.57 341.44 238.82 342.11 239.12 343.37C239.41 344.63 239.63 346.50 239.92 348.08C240.21 349.65 240.44 351.19 240.73 352.12C241.02 353.04 241.25 353.43 241.54 353.19C241.83 352.95 242.06 352.17 242.35 350.77C242.64 349.36 242.86 347.27 243.15 345.38C243.44 343.49 243.67 341.53 243.96 340.27C244.25 339.01 244.48 338.55 244.77 338.38C245.06 338.21 245.29 338.43 245.58 339.33C245.87 340.22 246.09 341.98 246.38 343.37C246.68 344.75 246.90 346.39 247.19 347.00C247.48 347.61 247.71 347.63 248.00 346.73C248.29 345.83 248.52 343.84 248.81 342.02C249.10 340.20 249.32 338.33 249.62 336.63C249.91 334.94 250.13 333.81 250.42 332.60C250.71 331.38 250.94 330.51 251.23 329.90C251.52 329.30 251.75 328.99 252.04 329.23C252.33 329.47 252.56 329.80 252.85 331.25C253.14 332.70 253.36 335.13 253.65 337.31C253.94 339.49 254.17 341.55 254.46 343.37C254.75 345.18 254.98 346.51 255.27 347.40C255.56 348.30 255.79 348.47 256.08 348.35C256.37 348.22 256.59 347.87 256.88 346.73C257.18 345.59 257.40 343.72 257.69 342.02C257.98 340.32 258.21 338.69 258.50 337.31C258.79 335.93 259.02 334.95 259.31 334.35C259.60 333.74 259.82 333.65 260.12 333.94C260.41 334.23 260.63 334.99 260.92 335.96C261.21 336.93 261.44 337.99 261.73 339.33C262.02 340.66 262.25 341.67 262.54 343.37C262.83 345.06 263.06 347.05 263.35 348.75C263.64 350.45 263.86 351.70 264.15 352.79C264.44 353.88 264.67 354.57 264.96 354.81C265.25 355.05 265.48 354.98 265.77 354.13C266.06 353.29 266.29 351.67 266.58 350.10C266.87 348.52 267.09 346.60 267.38 345.38C267.68 344.17 267.90 343.61 268.19 343.37C268.48 343.12 268.71 343.63 269.00 344.04C269.29 344.45 269.52 345.29 269.81 345.65C270.10 346.02 270.32 346.23 270.62 346.06C270.91 345.89 271.13 345.12 271.42 344.71C271.71 344.30 271.94 344.01 272.23 343.77C272.52 343.53 272.75 343.92 273.04 343.37C273.33 342.81 273.56 341.76 273.85 340.67C274.14 339.58 274.39 338.28 274.65 337.31C274.92 336.34 275.08 335.41 275.33 335.29C275.57 335.17 275.76 335.79 276.00 336.63C276.24 337.48 276.43 339.27 276.67 340.00C276.92 340.73 277.10 341.40 277.35 340.67C277.59 339.95 277.78 338.26 278.02 335.96C278.26 333.66 278.45 330.07 278.69 327.88C278.93 325.70 279.13 324.66 279.37 323.85C279.60 323.04 279.78 322.84 280.00 323.38C280.22 323.92 280.37 324.98 280.58 326.85C280.78 328.72 280.93 331.59 281.15 333.77C281.38 335.95 281.60 337.61 281.85 338.96C282.10 340.31 282.29 340.85 282.54 341.27C282.79 341.68 282.98 341.58 283.23 341.27C283.48 340.96 283.67 340.16 283.92 339.54C284.17 338.92 284.37 338.53 284.62 337.81C284.86 337.08 285.06 336.85 285.31 335.50C285.56 334.15 285.75 332.28 286.00 330.31C286.25 328.33 286.44 326.30 286.69 324.54C286.94 322.77 287.14 321.43 287.38 320.50C287.63 319.57 287.83 319.35 288.08 319.35C288.33 319.35 288.52 319.88 288.77 320.50C289.02 321.12 289.21 321.98 289.46 322.81C289.71 323.64 289.90 324.49 290.15 325.12C290.40 325.74 290.60 326.17 290.85 326.27C291.10 326.37 291.29 326.11 291.54 325.69C291.79 325.28 291.98 324.48 292.23 323.96C292.48 323.44 292.67 323.12 292.92 322.81C293.17 322.50 293.37 322.54 293.62 322.23C293.86 321.92 294.06 321.53 294.31 321.08C294.56 320.62 294.75 320.21 295.00 319.69C295.25 319.17 295.44 318.52 295.69 318.19C295.94 317.86 296.14 317.70 296.38 317.85C296.63 317.99 296.83 318.67 297.08 319.00C297.33 319.33 297.52 319.63 297.77 319.69C298.02 319.75 298.21 319.39 298.46 319.35C298.71 319.30 298.90 319.25 299.15 319.46C299.40 319.67 299.62 319.59 299.85 320.50C300.07 321.41 300.22 322.36 300.42 324.54C300.63 326.72 300.79 329.71 301.00 332.62C301.21 335.52 301.37 337.99 301.58 340.69C301.78 343.39 301.95 345.70 302.15 347.62C302.36 349.53 302.52 350.68 302.73 351.31C302.94 351.93 303.10 352.16 303.31 351.08C303.52 350.00 303.68 348.22 303.88 345.31C304.09 342.40 304.25 338.45 304.46 334.92C304.67 331.39 304.83 328.50 305.04 325.69C305.25 322.89 305.41 320.80 305.62 319.35C305.82 317.89 305.98 317.72 306.19 317.62C306.40 317.51 306.56 317.83 306.77 318.77C306.98 319.70 307.12 321.15 307.35 322.81C307.57 324.47 307.79 326.34 308.04 328.00C308.29 329.66 308.48 330.90 308.73 332.04C308.98 333.18 309.19 333.52 309.42 334.35C309.65 335.18 309.79 336.13 310.00 336.65C310.21 337.17 310.37 337.54 310.58 337.23C310.78 336.92 310.95 336.38 311.15 334.92C311.36 333.47 311.52 331.65 311.73 329.15C311.94 326.66 312.10 323.78 312.31 321.08C312.52 318.38 312.68 315.92 312.88 314.15C313.09 312.39 313.25 311.68 313.46 311.27C313.67 310.85 313.83 311.22 314.04 311.85C314.25 312.47 314.41 313.80 314.62 314.73C314.82 315.67 314.98 316.52 315.19 317.04C315.40 317.56 315.56 318.03 315.77 317.62C315.98 317.20 316.14 316.08 316.35 314.73C316.55 313.38 316.72 311.15 316.92 310.12C317.13 309.08 317.29 309.07 317.50 308.96C317.71 308.86 317.87 308.92 318.08 309.54C318.28 310.16 318.43 311.18 318.65 312.42C318.88 313.67 319.10 314.90 319.35 316.46C319.60 318.02 319.79 319.52 320.04 321.08C320.29 322.63 320.48 324.08 320.73 325.12C320.98 326.15 321.17 326.58 321.42 326.85C321.67 327.12 321.87 327.34 322.12 326.62C322.36 325.89 322.56 324.64 322.81 322.81C323.06 320.98 323.25 318.64 323.50 316.46C323.75 314.28 323.94 312.40 324.19 310.69C324.44 308.99 324.64 307.87 324.88 307.00C325.13 306.13 325.45 306.05 325.58 305.85"/>
<rect class="s" x="60.65" y="298.10" width="277.35" height="181.00"/>
<line class="t" x1="72.90" y1="479.60" x2="72.90" y2="482.40"/>
<text class="tl" text-anchor="middle" x="72.90" y="494.00">0</text>
<line class="t" x1="123.40" y1="479.60" x2="123.40" y2="482.40"/>
<text class="tl" text-anchor="middle" x="123.40" y="494.00">200</text>
<line class="t" x1="173.90" y1="479.60" x2="173.90" y2="482.40"/>
<text class="tl" text-anchor="middle" x="173.90" y="494.00">400</text>
<line class="t" x1="224.40" y1="479.60" x2="224.40" y2="482.40"/>
<text class="tl" text-anchor="middle" x="224.40" y="494.00">600</text>
<line class="t" x1="274.90" y1="479.60" x2="274.90" y2="482.40"/>
<text class="tl" text-anchor="middle" x="274.90" y="494.00">800</text>
<line class="t" x1="325.40" y1="479.60" x2="325.40" y2="482.40"/>
<text class="tl" text-anchor="middle" x="325.40" y="494.00">1000</text>
<line class="t" x1="57.35" y1="312.00" x2="60.15" y2="312.00"/>
<text class="tl" text-anchor="end" x="54.55" y="316.50">0.16</text>
<line class="t" x1="57.35" y1="345.88" x2="60.15" y2="345.88"/>
<text class="tl" text-anchor="end" x="54.55" y="350.38">0.14</text>
<line class="t" x1="57.35" y1="379.76" x2="60.15" y2="379.76"/>
<text class="tl" text-anchor="end" x="54.55" y="384.26">0.12</text>
<line class="t" x1="57.35" y1="413.64" x2="60.15" y2="413.64"/>
<text class="tl" text-anchor="end" x="54.55" y="418.14">0.10</text>
<line class="t" x1="57.35" y1="447.52" x2="60.15" y2="447.52"/>
<text class="tl" text-anchor="end" x="54.55" y="452.02">0.08</text>
<text class="lb" text-anchor="middle" x="199.02" y="290.10">Generation</text>
<text class="lb" text-anchor="middle" x="199.32" y="509.10">Step</text>
<text class="lb" text-anchor="middle" transform="translate(23.45 388.60) rotate(-90)">Reward</text>
<line class="g" x1="419.70" y1="298.00" x2="419.70" y2="478.90"/>
<line class="g" x1="470.24" y1="298.00" x2="470.24" y2="478.90"/>
<line class="g" x1="520.78" y1="298.00" x2="520.78" y2="478.90"/>
<line class="g" x1="571.32" y1="298.00" x2="571.32" y2="478.90"/>
<line class="g" x1="621.86" y1="298.00" x2="621.86" y2="478.90"/>
<line class="g" x1="672.40" y1="298.00" x2="672.40" y2="478.90"/>
<line class="g" x1="407.70" y1="298.00" x2="684.95" y2="298.00"/>
<line class="g" x1="407.70" y1="328.15" x2="684.95" y2="328.15"/>
<line class="g" x1="407.70" y1="358.30" x2="684.95" y2="358.30"/>
<line class="g" x1="407.70" y1="388.45" x2="684.95" y2="388.45"/>
<line class="g" x1="407.70" y1="418.60" x2="684.95" y2="418.60"/>
<line class="g" x1="407.70" y1="448.75" x2="684.95" y2="448.75"/>
<line class="g" x1="407.70" y1="478.90" x2="684.95" y2="478.90"/>
<path class="c" stroke="#3c59be" d="M420.00 463.00C420.18 461.11 420.64 457.09 421.00 452.50C421.36 447.91 421.64 443.35 422.00 437.50C422.36 431.65 422.64 424.95 423.00 420.00C423.36 415.05 423.64 412.93 424.00 410.00C424.36 407.07 424.60 405.55 425.00 403.75C425.40 401.95 425.80 400.90 426.25 400.00C426.70 399.10 427.00 399.20 427.50 398.75C428.00 398.30 428.46 398.08 429.00 397.50C429.54 396.92 429.96 396.40 430.50 395.50C431.04 394.60 431.46 393.26 432.00 392.50C432.54 391.74 432.96 391.12 433.50 391.25C434.04 391.38 434.46 392.35 435.00 393.25C435.54 394.15 436.00 395.39 436.50 396.25C437.00 397.11 437.30 398.13 437.75 398.00C438.20 397.87 438.55 396.49 439.00 395.50C439.45 394.51 439.80 393.18 440.25 392.50C440.70 391.82 441.05 391.98 441.50 391.75C441.95 391.52 442.30 392.01 442.75 391.25C443.20 390.49 443.55 389.30 444.00 387.50C444.45 385.70 444.80 383.14 445.25 381.25C445.70 379.36 446.05 377.90 446.50 377.00C446.95 376.10 447.30 376.25 447.75 376.25C448.20 376.25 448.55 377.45 449.00 377.00C449.45 376.55 449.80 374.69 450.25 373.75C450.70 372.81 451.00 371.98 451.50 371.75C452.00 371.52 452.46 372.27 453.00 372.50C453.54 372.73 453.96 373.18 454.50 373.00C455.04 372.82 455.46 371.86 456.00 371.50C456.54 371.14 456.96 371.00 457.50 371.00C458.04 371.00 458.46 371.37 459.00 371.50C459.54 371.63 459.96 372.02 460.50 371.75C461.04 371.48 461.46 370.86 462.00 370.00C462.54 369.14 462.96 368.57 463.50 367.00C464.04 365.43 464.57 362.18 465.00 361.25C465.43 360.32 465.58 361.55 465.91 361.82C466.24 362.08 466.49 362.48 466.82 362.73C467.15 362.97 467.40 363.24 467.73 363.18C468.05 363.12 468.31 362.80 468.64 362.39C468.96 361.98 469.22 361.26 469.55 360.91C469.87 360.56 470.13 360.33 470.45 360.45C470.78 360.58 471.04 361.28 471.36 361.59C471.69 361.90 471.95 362.32 472.27 362.16C472.60 362.00 472.85 361.46 473.18 360.68C473.51 359.90 473.76 358.82 474.09 357.84C474.42 356.86 474.69 355.84 475.00 355.23C475.31 354.61 475.51 354.43 475.80 354.43C476.08 354.43 476.28 354.76 476.59 355.23C476.90 355.70 477.17 356.47 477.50 357.05C477.83 357.62 478.08 358.00 478.41 358.41C478.74 358.82 479.01 358.75 479.32 359.32C479.62 359.89 479.83 360.83 480.11 361.59C480.40 362.35 480.62 363.11 480.91 363.52C481.20 363.93 481.42 364.27 481.70 363.86C481.99 363.45 482.21 362.44 482.50 361.25C482.79 360.06 483.01 358.50 483.30 357.27C483.58 356.05 483.78 355.09 484.09 354.43C484.40 353.78 484.69 353.57 485.00 353.64C485.31 353.70 485.51 354.16 485.80 354.77C486.08 355.39 486.30 356.49 486.59 357.05C486.88 357.60 487.10 357.76 487.39 357.84C487.67 357.92 487.90 357.50 488.18 357.50C488.47 357.50 488.69 357.43 488.98 357.84C489.26 358.25 489.49 359.10 489.77 359.77C490.06 360.45 490.28 361.22 490.57 361.59C490.85 361.96 491.06 362.08 491.36 361.82C491.67 361.55 491.95 360.73 492.27 360.11C492.60 359.50 492.85 358.96 493.18 358.41C493.51 357.86 493.76 357.50 494.09 357.05C494.42 356.60 494.67 356.11 495.00 355.91C495.33 355.70 495.58 355.83 495.91 355.91C496.24 355.99 496.49 356.36 496.82 356.36C497.15 356.36 497.42 356.46 497.73 355.91C498.03 355.36 498.24 354.28 498.52 353.30C498.81 352.31 499.01 351.27 499.32 350.45C499.62 349.64 499.90 349.22 500.23 348.75C500.55 348.28 500.81 348.11 501.14 347.84C501.46 347.57 501.72 347.31 502.05 347.27C502.37 347.23 502.63 347.29 502.95 347.61C503.28 347.94 503.54 348.54 503.86 349.09C504.19 349.64 504.45 350.27 504.77 350.68C505.10 351.09 505.35 351.18 505.68 351.36C506.01 351.55 506.26 351.60 506.59 351.70C506.92 351.81 507.17 351.87 507.50 351.93C507.83 351.99 508.08 352.03 508.41 352.05C508.74 352.07 508.99 352.09 509.32 352.05C509.65 352.00 509.90 351.90 510.23 351.82C510.55 351.74 510.81 351.77 511.14 351.59C511.46 351.41 511.72 351.25 512.05 350.80C512.37 350.35 512.65 349.66 512.95 349.09C513.26 348.52 513.46 347.92 513.75 347.61C514.04 347.31 514.26 347.24 514.55 347.39C514.83 347.53 515.05 348.06 515.34 348.41C515.63 348.76 515.83 349.07 516.14 349.32C516.44 349.56 516.72 349.67 517.05 349.77C517.37 349.88 517.63 349.87 517.95 349.89C518.28 349.91 518.54 349.91 518.86 349.89C519.19 349.87 519.47 349.67 519.77 349.77C520.08 349.88 520.28 350.13 520.57 350.45C520.85 350.78 521.08 351.35 521.36 351.59C521.65 351.84 521.87 351.92 522.16 351.82C522.45 351.72 522.67 351.57 522.95 351.02C523.24 350.47 523.46 349.57 523.75 348.75C524.04 347.93 524.26 347.03 524.55 346.48C524.83 345.93 525.05 345.74 525.34 345.68C525.63 345.62 525.85 345.93 526.14 346.14C526.42 346.34 526.65 346.86 526.93 346.82C527.22 346.78 527.44 346.52 527.73 345.91C528.01 345.30 528.24 344.27 528.52 343.41C528.81 342.55 529.03 341.71 529.32 341.14C529.60 340.56 529.83 340.29 530.11 340.23C530.40 340.17 530.62 340.28 530.91 340.80C531.20 341.31 531.42 342.05 531.70 343.07C531.99 344.09 532.21 345.31 532.50 346.48C532.79 347.64 533.01 348.73 533.30 349.55C533.58 350.36 533.78 350.76 534.09 351.02C534.40 351.29 534.67 351.06 535.00 351.02C535.33 350.98 535.58 350.84 535.91 350.80C536.24 350.75 536.49 350.65 536.82 350.80C537.15 350.94 537.40 351.32 537.73 351.59C538.05 351.86 538.35 352.21 538.64 352.27C538.92 352.33 539.07 352.61 539.32 351.93C539.56 351.26 539.75 350.06 540.00 348.52C540.25 346.99 540.44 345.05 540.68 343.41C540.93 341.77 541.10 340.39 541.36 339.43C541.63 338.47 541.89 338.07 542.16 338.07C542.42 338.07 542.60 338.37 542.84 339.43C543.09 340.50 543.28 342.34 543.52 343.98C543.77 345.61 543.94 347.40 544.20 348.52C544.47 349.65 544.73 350.02 545.00 350.23C545.27 350.43 545.44 350.17 545.68 349.66C545.93 349.15 546.10 348.20 546.36 347.39C546.63 346.57 546.87 345.67 547.16 345.11C547.45 344.56 547.67 344.58 547.95 344.32C548.24 344.05 548.46 344.00 548.75 343.64C549.04 343.27 549.26 342.72 549.55 342.27C549.83 341.82 550.05 341.30 550.34 341.14C550.63 340.97 550.85 341.06 551.14 341.36C551.42 341.67 551.65 342.31 551.93 342.84C552.22 343.37 552.44 343.97 552.73 344.32C553.01 344.67 553.24 344.94 553.52 344.77C553.81 344.61 554.03 344.17 554.32 343.41C554.60 342.65 554.83 341.45 555.11 340.57C555.40 339.69 555.62 338.93 555.91 338.52C556.20 338.11 556.42 338.07 556.70 338.30C556.99 338.52 557.21 339.16 557.50 339.77C557.79 340.39 558.01 341.30 558.30 341.70C558.58 342.11 558.80 342.25 559.09 342.05C559.38 341.84 559.60 340.98 559.89 340.57C560.17 340.16 560.40 339.88 560.68 339.77C560.97 339.67 561.19 339.65 561.48 340.00C561.76 340.35 561.99 341.09 562.27 341.70C562.56 342.32 562.78 342.96 563.07 343.41C563.35 343.86 563.58 344.16 563.86 344.20C564.15 344.25 564.37 344.02 564.66 343.64C564.95 343.25 565.17 342.66 565.45 342.05C565.74 341.43 565.96 340.76 566.25 340.23C566.54 339.70 566.76 339.34 567.05 339.09C567.33 338.85 567.55 338.74 567.84 338.86C568.13 338.99 568.35 339.36 568.64 339.77C568.92 340.18 569.15 340.73 569.43 341.14C569.72 341.55 569.94 341.84 570.23 342.05C570.51 342.25 570.74 342.40 571.02 342.27C571.31 342.15 571.53 341.67 571.82 341.36C572.10 341.06 572.33 340.65 572.61 340.57C572.90 340.49 573.12 340.64 573.41 340.91C573.70 341.17 573.92 341.76 574.20 342.05C574.49 342.33 574.71 342.30 575.00 342.50C575.29 342.70 575.51 342.65 575.80 343.18C576.08 343.71 576.30 344.60 576.59 345.45C576.88 346.31 577.10 347.30 577.39 347.95C577.67 348.61 577.90 348.99 578.18 349.09C578.47 349.19 578.69 349.24 578.98 348.52C579.26 347.81 579.49 346.55 579.77 345.11C580.06 343.68 580.28 342.31 580.57 340.57C580.85 338.83 581.08 337.09 581.36 335.45C581.65 333.82 581.87 332.50 582.16 331.48C582.45 330.45 582.67 330.02 582.95 329.77C583.24 329.53 583.46 329.50 583.75 330.11C584.04 330.73 584.26 331.71 584.55 333.18C584.83 334.65 585.05 336.56 585.34 338.30C585.63 340.03 585.85 341.61 586.14 342.84C586.42 344.07 586.65 344.77 586.93 345.11C587.22 345.46 587.44 345.49 587.73 344.77C588.01 344.06 588.24 342.51 588.52 341.14C588.81 339.77 589.03 338.28 589.32 337.16C589.60 336.03 589.83 335.40 590.11 334.89C590.40 334.38 590.62 334.38 590.91 334.32C591.20 334.26 591.42 334.65 591.70 334.55C591.99 334.44 592.21 334.45 592.50 333.75C592.79 333.05 593.01 331.64 593.30 330.68C593.58 329.72 593.80 328.88 594.09 328.41C594.38 327.94 594.60 327.93 594.89 328.07C595.17 328.21 595.40 328.69 595.68 329.20C595.97 329.72 596.19 330.36 596.48 330.91C596.76 331.46 596.99 331.76 597.27 332.27C597.56 332.78 597.78 333.22 598.07 333.75C598.35 334.28 598.58 334.82 598.86 335.23C599.15 335.64 599.37 335.74 599.66 336.02C599.95 336.31 600.17 336.20 600.45 336.82C600.74 337.43 600.96 338.29 601.25 339.43C601.54 340.58 601.76 342.16 602.05 343.18C602.33 344.20 602.55 344.87 602.84 345.11C603.13 345.36 603.35 344.95 603.64 344.55C603.92 344.14 604.15 343.35 604.43 342.84C604.72 342.33 604.94 341.81 605.23 341.70C605.51 341.60 605.74 341.97 606.02 342.27C606.31 342.58 606.53 343.16 606.82 343.41C607.10 343.65 607.40 343.68 607.61 343.64C607.83 343.60 607.77 343.47 608.00 343.18C608.23 342.90 608.58 342.45 608.91 342.05C609.24 341.64 609.49 341.32 609.82 340.91C610.15 340.50 610.40 340.12 610.73 339.77C611.05 339.43 611.35 339.08 611.64 338.98C611.92 338.88 612.05 338.96 612.32 339.20C612.58 339.45 612.83 340.03 613.11 340.34C613.40 340.65 613.62 340.87 613.91 340.91C614.20 340.95 614.42 340.73 614.70 340.57C614.99 340.40 615.21 340.10 615.50 340.00C615.79 339.90 616.01 340.04 616.30 340.00C616.58 339.96 616.83 340.12 617.09 339.77C617.36 339.42 617.53 338.85 617.77 338.07C618.02 337.29 618.21 336.11 618.45 335.45C618.70 334.80 618.89 334.43 619.14 334.43C619.38 334.43 619.57 334.60 619.82 335.45C620.06 336.31 620.25 337.85 620.50 339.20C620.75 340.55 620.94 341.97 621.18 342.95C621.43 343.94 621.60 344.31 621.86 344.66C622.13 345.01 622.37 344.95 622.66 344.89C622.95 344.82 623.17 344.52 623.45 344.32C623.74 344.11 623.96 343.81 624.25 343.75C624.54 343.69 624.76 343.92 625.05 343.98C625.33 344.04 625.58 344.44 625.84 344.09C626.11 343.74 626.28 343.33 626.52 342.05C626.77 340.76 626.96 338.77 627.20 336.93C627.45 335.09 627.64 333.45 627.89 331.82C628.13 330.18 628.32 328.97 628.57 327.84C628.81 326.72 628.98 326.08 629.25 325.57C629.52 325.06 629.78 324.94 630.05 325.00C630.31 325.06 630.48 325.40 630.73 325.91C630.97 326.42 631.16 326.98 631.41 327.84C631.65 328.70 631.85 329.56 632.09 330.68C632.34 331.81 632.53 332.90 632.77 334.09C633.02 335.28 633.19 336.29 633.45 337.27C633.72 338.25 633.96 339.05 634.25 339.55C634.54 340.04 634.76 340.10 635.05 340.00C635.33 339.90 635.55 339.39 635.84 338.98C636.13 338.57 636.35 338.10 636.64 337.73C636.92 337.36 637.15 337.12 637.43 336.93C637.72 336.75 637.94 336.85 638.23 336.70C638.51 336.56 638.74 336.36 639.02 336.14C639.31 335.91 639.53 335.78 639.82 335.45C640.10 335.13 640.33 334.71 640.61 334.32C640.90 333.93 641.12 333.50 641.41 333.30C641.70 333.09 641.92 333.00 642.20 333.18C642.49 333.37 642.73 333.75 643.00 334.32C643.27 334.89 643.44 335.89 643.68 336.36C643.93 336.83 644.12 337.24 644.36 336.93C644.61 336.62 644.80 335.42 645.05 334.66C645.29 333.90 645.48 333.14 645.73 332.73C645.97 332.32 646.16 332.18 646.41 332.39C646.65 332.59 646.85 333.05 647.09 333.86C647.34 334.68 647.53 335.97 647.77 336.93C648.02 337.89 648.19 338.65 648.45 339.20C648.72 339.76 648.96 339.80 649.25 340.00C649.54 340.20 649.76 340.22 650.05 340.34C650.33 340.46 650.55 340.48 650.84 340.68C651.13 340.89 651.35 341.17 651.64 341.48C651.92 341.78 652.15 341.98 652.43 342.39C652.72 342.80 652.94 343.36 653.23 343.75C653.51 344.14 653.76 344.55 654.02 344.55C654.29 344.55 654.46 344.30 654.70 343.75C654.95 343.20 655.14 342.50 655.39 341.48C655.63 340.45 655.82 339.30 656.07 338.07C656.31 336.84 656.50 335.74 656.75 334.66C657.00 333.57 657.19 332.80 657.43 332.05C657.68 331.29 657.85 330.90 658.11 330.45C658.38 330.00 658.62 329.81 658.91 329.55C659.20 329.28 659.42 329.22 659.70 328.98C659.99 328.73 660.21 328.59 660.50 328.18C660.79 327.77 661.01 327.24 661.30 326.70C661.58 326.17 661.80 325.58 662.09 325.23C662.38 324.88 662.62 324.65 662.89 324.77C663.15 324.90 663.32 325.30 663.57 325.91C663.81 326.52 664.00 327.49 664.25 328.18C664.50 328.88 664.69 329.42 664.93 329.77C665.18 330.12 665.37 330.26 665.61 330.11C665.86 329.97 666.05 329.73 666.30 328.98C666.54 328.22 666.73 327.14 666.98 325.91C667.22 324.68 667.41 323.35 667.66 322.16C667.90 320.97 668.10 320.07 668.34 319.32C668.59 318.56 668.78 318.22 669.02 317.95C669.27 317.69 669.46 317.64 669.70 317.84C669.95 318.05 670.14 318.46 670.39 319.09C670.63 319.72 670.82 320.55 671.07 321.36C671.31 322.18 671.50 323.02 671.75 323.64C672.00 324.25 672.31 324.57 672.43 324.77"/>
<rect class="s" x="407.70" y="298.00" width="277.25" height="180.90"/>
<line class="t" x1="419.70" y1="479.40" x2="419.70" y2="482.20"/>
<text class="tl" text-anchor="middle" x="419.70" y="493.80">0</text>
<line class="t" x1="470.24" y1="479.40" x2="470.24" y2="482.20"/>
<text class="tl" text-anchor="middle" x="470.24" y="493.80">200</text>
<line class="t" x1="520.78" y1="479.40" x2="520.78" y2="482.20"/>
<text class="tl" text-anchor="middle" x="520.78" y="493.80">400</text>
<line class="t" x1="571.32" y1="479.40" x2="571.32" y2="482.20"/>
<text class="tl" text-anchor="middle" x="571.32" y="493.80">600</text>
<line class="t" x1="621.86" y1="479.40" x2="621.86" y2="482.20"/>
<text class="tl" text-anchor="middle" x="621.86" y="493.80">800</text>
<line class="t" x1="672.40" y1="479.40" x2="672.40" y2="482.20"/>
<text class="tl" text-anchor="middle" x="672.40" y="493.80">1000</text>
<line class="t" x1="404.40" y1="298.00" x2="407.20" y2="298.00"/>
<text class="tl" text-anchor="end" x="401.60" y="302.50">0.70</text>
<line class="t" x1="404.40" y1="328.15" x2="407.20" y2="328.15"/>
<text class="tl" text-anchor="end" x="401.60" y="332.65">0.65</text>
<line class="t" x1="404.40" y1="358.30" x2="407.20" y2="358.30"/>
<text class="tl" text-anchor="end" x="401.60" y="362.80">0.60</text>
<line class="t" x1="404.40" y1="388.45" x2="407.20" y2="388.45"/>
<text class="tl" text-anchor="end" x="401.60" y="392.95">0.55</text>
<line class="t" x1="404.40" y1="418.60" x2="407.20" y2="418.60"/>
<text class="tl" text-anchor="end" x="401.60" y="423.10">0.50</text>
<line class="t" x1="404.40" y1="448.75" x2="407.20" y2="448.75"/>
<text class="tl" text-anchor="end" x="401.60" y="453.25">0.45</text>
<line class="t" x1="404.40" y1="478.90" x2="407.20" y2="478.90"/>
<text class="tl" text-anchor="end" x="401.60" y="483.40">0.40</text>
<text class="lb" text-anchor="middle" x="546.03" y="290.00">Self-Verification</text>
<text class="lb" text-anchor="middle" x="546.33" y="508.90">Step</text>
<text class="lb" text-anchor="middle" transform="translate(369.90 388.45) rotate(-90)">Accuracy</text>
<rect x="268.8" y="8.6" width="165.2" height="30.0" rx="5.5" ry="5.5" fill="#fdeded" stroke="#e8747a" stroke-width="1.3"/>
<text class="bt" text-anchor="middle" x="351.6" y="28.1" fill="#e8666c" style="fill:#e8666c;stroke:#e8666c">Learn to Generate</text>
<rect x="263.8" y="252.95" width="175.0" height="30.0" rx="5.5" ry="5.5" fill="#eef4ec" stroke="#4866c6" stroke-width="1.3"/>
<text class="bt" text-anchor="middle" x="351.55" y="272.7" style="fill:#3d5abf;stroke:#3d5abf">Learn to Self-Verify</text>
</svg>
</body></html>
